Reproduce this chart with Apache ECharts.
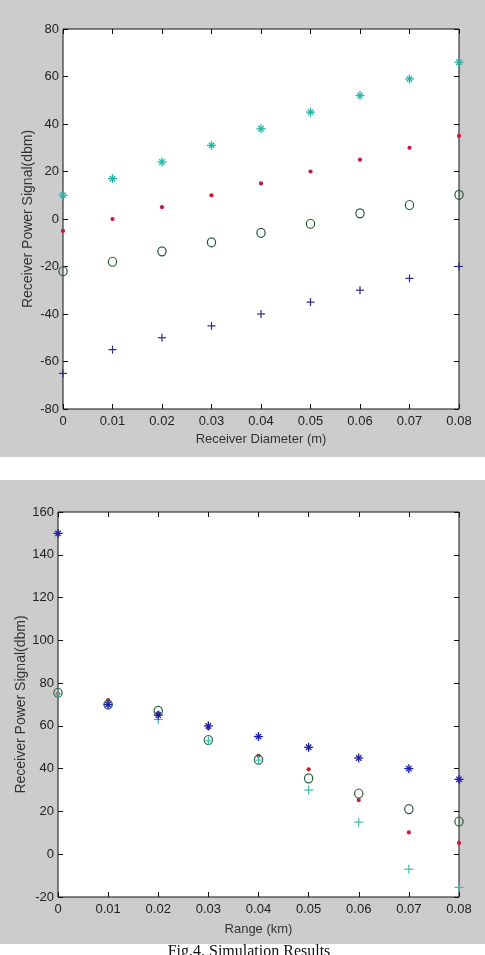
<!DOCTYPE html>
<html>
<head>
<meta charset="utf-8">
<script src="https://cdn.jsdelivr.net/npm/echarts@6/dist/echarts.min.js"></script>
<style>
html,body{margin:0;padding:0;background:#fff;}
#c{width:485px;height:955px;}
</style>
</head>
<body>
<div id="c"></div>
<script>
// ---- data ----
const xVals = [0, 0.01, 0.02, 0.03, 0.04, 0.05, 0.06, 0.07, 0.08];
const xTickLabels = ['0', '0.01', '0.02', '0.03', '0.04', '0.05', '0.06', '0.07', '0.08'];

// top chart: Receiver Diameter (m)
const topStar   = [10, 17, 24, 31, 38, 45, 52, 59, 66];
const topDot    = [-5, 0, 5, 10, 15, 20, 25, 30, 35];
const topCircle = [-22, -18, -13.6, -9.8, -5.8, -2, 2.4, 5.9, 10.2];
const topPlus   = [-65, -55, -50, -45, -40, -35, -30, -25, -20];

// bottom chart: Range (km)
const botStar   = [150, 70, 65, 60, 55, 50, 45, 40, 35];
const botDot    = [75, 72, 66, 59, 46, 39.7, 25.3, 10.2, 5.3];
const botCircle = [75.5, 70, 67, 53.4, 44.2, 35.5, 28.4, 21.1, 15.3];
const botPlus   = [75, 70, 63, 53, 44, 30, 15, -7, -15.5];

const topYTicks = {min: -80, max: 80, interval: 20};
const botYTicks = {min: -20, max: 160, interval: 20};

// ---- helpers ----
const narrow = "'Liberation Sans Narrow', 'Arial Narrow', 'Liberation Sans', Arial, sans-serif";
const regular = "'Liberation Sans', Arial, sans-serif";

function pairs(ys) { return xVals.map((x, i) => [x, ys[i]]); }

function marker(kind, color, size, lw) {
  return function (params, api) {
    const p = api.coord([api.value(0), api.value(1)]);
    const x = p[0], y = p[1], r = size / 2;
    const st = {stroke: color, lineWidth: lw, fill: null};
    if (kind === 'plus' || kind === 'star') {
      const ch = [
        {type: 'line', shape: {x1: x - r, y1: y, x2: x + r, y2: y}, style: st},
        {type: 'line', shape: {x1: x, y1: y - r, x2: x, y2: y + r}, style: st}
      ];
      if (kind === 'star') {
        const d = r * 0.6;
        ch.push({type: 'line', shape: {x1: x - d, y1: y - d, x2: x + d, y2: y + d}, style: st});
        ch.push({type: 'line', shape: {x1: x - d, y1: y + d, x2: x + d, y2: y - d}, style: st});
      }
      return {type: 'group', children: ch};
    }
    if (kind === 'circle') {
      return {type: 'ellipse', shape: {cx: x, cy: y, rx: r * 0.92, ry: r}, style: {stroke: color, lineWidth: lw, fill: null}};
    }
    return {type: 'circle', shape: {cx: x, cy: y, r: r}, style: {fill: color}};
  };
}

function series(ys, kind, color, size, lw, gi) {
  return {
    type: 'custom',
    xAxisIndex: gi * 2,
    yAxisIndex: gi * 2,
    data: pairs(ys),
    encode: {x: 0, y: 1},
    clip: false,
    renderItem: marker(kind, color, size, lw),
    silent: true,
    z: 5
  };
}

const tickStyle = {show: true, inside: true, length: 5, lineStyle: {color: '#111', width: 1}};

function xAxes(gi, name, nameGap) {
  const common = {
    type: 'value', gridIndex: gi, min: 0, max: 0.08, interval: 0.01,
    axisLine: {show: false, onZero: false}, splitLine: {show: false},
    axisTick: tickStyle
  };
  return [
    Object.assign({}, common, {
      position: 'bottom',
      name: name, nameLocation: 'middle', nameGap: nameGap, nameMoveOverlap: false,
      nameTextStyle: {fontFamily: narrow, fontSize: 13, color: '#333'},
      axisLabel: {
        show: true, margin: 6, fontFamily: narrow, fontSize: 13, color: '#222',
        formatter: v => xTickLabels[Math.round(v * 100)]
      }
    }),
    Object.assign({}, common, {position: 'top', axisLabel: {show: false}})
  ];
}

function yAxes(gi, t, name, nameGap) {
  const common = {
    type: 'value', gridIndex: gi, min: t.min, max: t.max, interval: t.interval,
    axisLine: {show: false, onZero: false}, splitLine: {show: false},
    axisTick: tickStyle
  };
  return [
    Object.assign({}, common, {
      position: 'left',
      name: name, nameLocation: 'middle', nameGap: nameGap, nameRotate: 90, nameMoveOverlap: false,
      nameTextStyle: {fontFamily: regular, fontSize: 14, color: '#333'},
      axisLabel: {show: true, margin: 4, fontFamily: narrow, fontSize: 13, color: '#222'}
    }),
    Object.assign({}, common, {position: 'right', axisLabel: {show: false}})
  ];
}

const chart = echarts.init(document.getElementById('c'), null, {renderer: 'canvas'});
chart.setOption({
  animation: false,
  backgroundColor: '#ffffff',
  graphic: [
    {type: 'rect', shape: {x: 0, y: 0, width: 485, height: 457}, style: {fill: '#cccccc'}, z: -100, silent: true},
    {type: 'rect', shape: {x: 0, y: 480, width: 485, height: 464}, style: {fill: '#cccccc'}, z: -100, silent: true},
    {type: 'text', x: 249, y: 944,
     style: {text: 'Fig.4. Simulation Results', textAlign: 'center', textVerticalAlign: 'top',
             font: "16px 'Liberation Serif', 'Times New Roman', serif", fill: '#111'}, z: 10}
  ],
  grid: [
    {left: 63, top: 29, width: 396, height: 380, show: true, backgroundColor: '#fff', borderColor: '#111', borderWidth: 1},
    {left: 58, top: 512, width: 401, height: 385, show: true, backgroundColor: '#fff', borderColor: '#111', borderWidth: 1}
  ],
  xAxis: [].concat(xAxes(0, 'Receiver Diameter (m)', 24), xAxes(1, 'Range (km)', 26)),
  yAxis: [].concat(yAxes(0, topYTicks, 'Receiver Power Signal(dbm)', 28), yAxes(1, botYTicks, 'Receiver Power Signal(dbm)', 30)),
  series: [
    series(topCircle, 'circle', '#1f5a34', 9, 1.2, 0),
    series(topDot, 'dot', '#c4183e', 4.2, 1, 0),
    series(topPlus, 'plus', '#2b2b86', 8, 1.2, 0),
    series(topStar, 'star', '#2ab4a8', 9, 1.3, 0),

    series(botDot, 'dot', '#c81e2c', 4.2, 1, 1),
    series(botCircle, 'circle', '#285c3c', 9, 1.2, 1),
    series(botPlus, 'plus', '#3cc0aa', 9, 1.2, 1),
    series(botStar, 'star', '#1c1ca6', 9, 1.3, 1)
  ]
});
</script>
</body>
</html>
